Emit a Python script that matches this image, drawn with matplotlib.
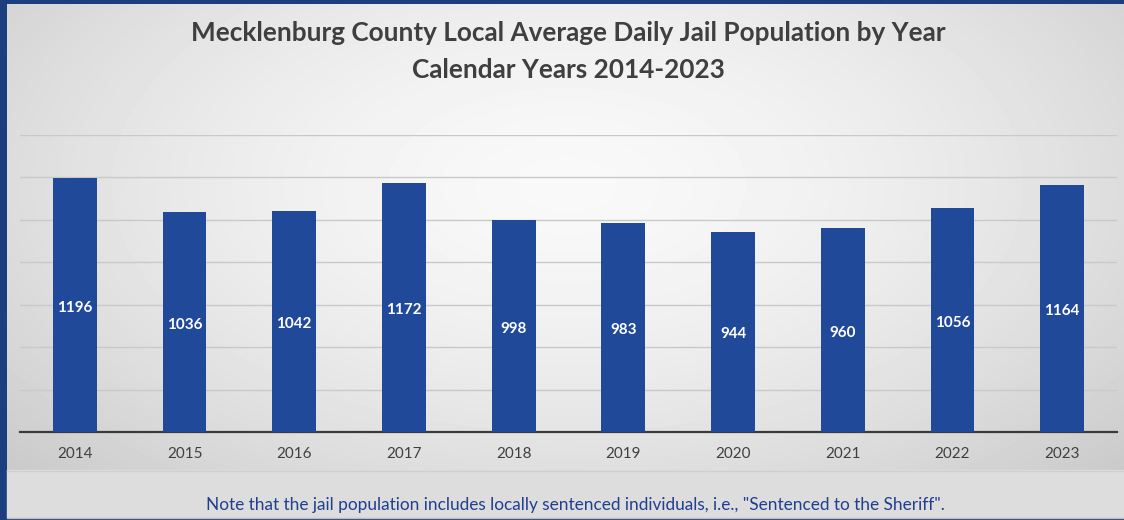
import numpy as np
import matplotlib
matplotlib.use("Agg")
import matplotlib.pyplot as plt

years = ["2014", "2015", "2016", "2017", "2018", "2019", "2020", "2021", "2022", "2023"]
population = [1196, 1036, 1042, 1172, 998, 983, 944, 960, 1056, 1164]

title_1 = "Mecklenburg County Local Average Daily Jail Population by Year"
title_2 = "Calendar Years 2014-2023"
note = 'Note that the jail population includes locally sentenced individuals, i.e., "Sentenced to the Sheriff".'

plt.rcParams['font.family'] = ['Lato', 'DejaVu Sans']

W, H = 1124, 520
fig = plt.figure(figsize=(W / 100, H / 100), dpi=100)

# background: dark blue frame, grey radial gradient panel, note band
bg = fig.add_axes([0, 0, 1, 1], zorder=0)
bg.add_patch(plt.Rectangle((0, 0), W, H, color="#1c3d7e", zorder=0))
yy, xx = np.mgrid[0:466, 0:1117]
r = np.sqrt(((xx - 560) / 700.0) ** 2 + ((yy - 180) / 380.0) ** 2)
grad = np.clip(0.975 - 0.16 * r ** 1.6, 0.78, 1.0)
bg.imshow(grad, cmap="gray", vmin=0, vmax=1, extent=(7, 1124, 470, 4),
          aspect="auto", interpolation="bilinear", zorder=1)
bg.add_patch(plt.Rectangle((7, 470), W - 7, 47, color="#dddddd", zorder=2))
bg.plot([7, W], [470.5, 470.5], color="#cfcfcf", lw=1, zorder=3)
bg.plot([7, W], [517.5, 517.5], color="#bdbdbd", lw=1, zorder=3)
bg.set_xlim(0, W)
bg.set_ylim(H, 0)
bg.axis("off")

ax = fig.add_axes([20 / W, 88 / H, 1097 / W, 297 / H], zorder=1)
ax.patch.set_alpha(0)
x = np.arange(len(years))
bars = ax.bar(x, population, width=0.4, color="#21499a", zorder=3)
ax.set_xlim(-0.5, len(years) - 0.5)
ax.set_ylim(0, 1400)
ax.set_yticks(np.arange(0, 1401, 200))
ax.yaxis.grid(True, color="#c9c9c9", lw=1)
ax.set_axisbelow(True)
ax.tick_params(axis="y", left=False, labelleft=False)
ax.set_xticks(x)
ax.set_xticklabels(years, fontsize=11, color="#404040")
ax.tick_params(axis="x", length=0, pad=11)
for s in ["top", "right", "left"]:
    ax.spines[s].set_visible(False)
ax.spines["bottom"].set_color("#3a3a3a")
ax.spines["bottom"].set_linewidth(1.6)

for b, v in zip(bars, population):
    ax.text(b.get_x() + b.get_width() / 2, v / 2 - 12, str(v), ha="center", va="center",
            color="white", fontsize=11, fontweight="bold", zorder=4)

fig.text(568 / W, 1 - 33 / H, title_1, ha="center", va="center",
         fontsize=18.8, fontweight="bold", color="#3f3f3f")
fig.text(568 / W, 1 - 70 / H, title_2, ha="center", va="center",
         fontsize=18.8, fontweight="bold", color="#3f3f3f")
fig.text(575 / W, 1 - 505 / H, note, ha="center", va="center",
         fontsize=12.4, color="#1f3f8f")

fig.savefig("out.png", dpi=100)
